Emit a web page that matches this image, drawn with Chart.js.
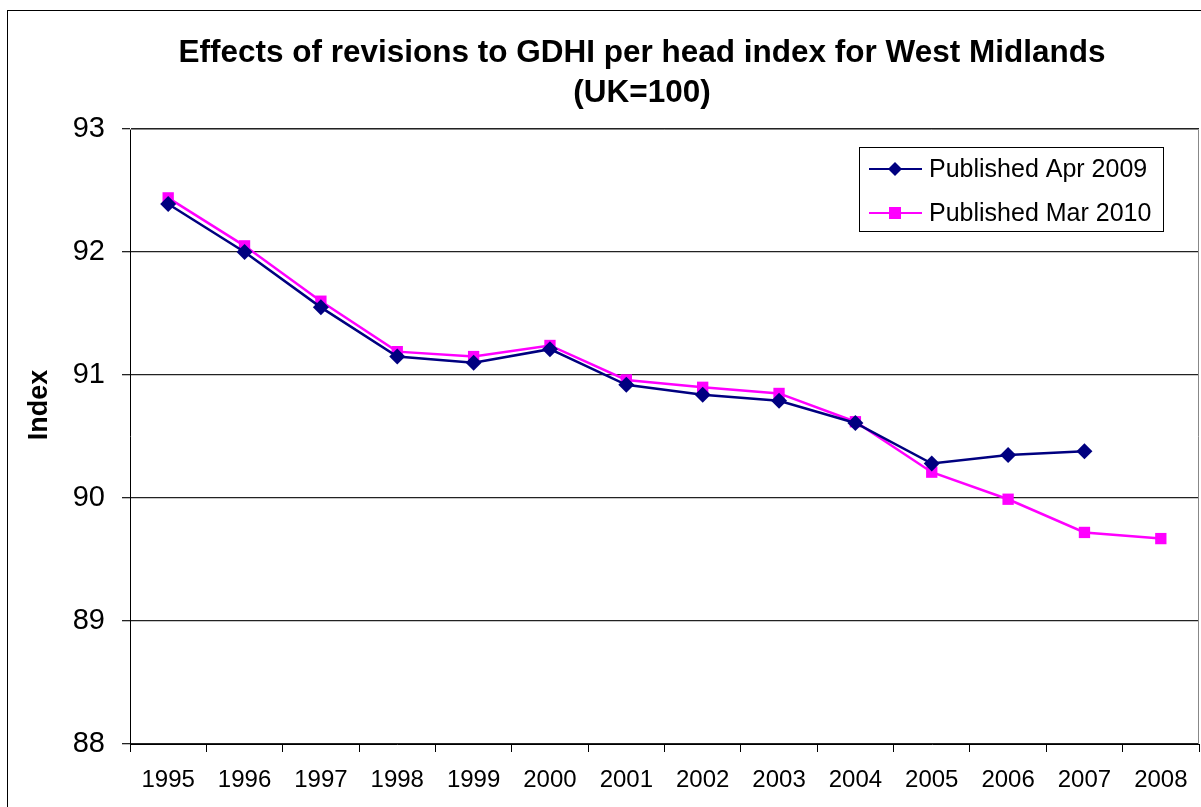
<!DOCTYPE html>
<html>
<head>
<meta charset="utf-8">
<script src="https://cdn.jsdelivr.net/npm/chart.js@4.4.1/dist/chart.umd.min.js"></script>
<style>
  html, body { margin: 0; padding: 0; background: #fff; }
  #wrap { width: 1201px; height: 807px; position: relative; }
</style>
</head>
<body>
<div id="wrap"><canvas id="gdhiChart" width="1201" height="807"></canvas></div>
<script>
var years = ['1995','1996','1997','1998','1999','2000','2001','2002','2003','2004','2005','2006','2007','2008'];
var publishedApr2009 = [92.39, 92.0, 91.55, 91.15, 91.1, 91.21, 90.92, 90.84, 90.79, 90.61, 90.28, 90.35, 90.38, null];
var publishedMar2010 = [92.44, 92.05, 91.6, 91.19, 91.15, 91.24, 90.96, 90.9, 90.85, 90.62, 90.21, 89.99, 89.72, 89.67];
var seriesNames = ['Published Apr 2009', 'Published Mar 2010'];
var titleLines = ['Effects of revisions to GDHI per head index for West Midlands', '(UK=100)'];
var yTitle = 'Index';

var FONT = 'Arial, "Liberation Sans", sans-serif';
var NAVY = '#000080';
var MAGENTA = '#FF00FF';

// frame, title, axis title, plot border and legend drawn by hand
var excelLook = {
    id: 'excelLook',
    beforeDraw: function(chart){
        var ctx = chart.ctx;
        ctx.save();
        ctx.fillStyle = '#fff';
        ctx.fillRect(0, 0, chart.width, chart.height);
        ctx.strokeStyle = '#000';
        ctx.lineWidth = 1;
        ctx.strokeRect(7.5, 10.5, 1300, 900);
        ctx.restore();
    },
    afterDraw: function(chart){
        var ctx = chart.ctx;
        var a = chart.chartArea;
        ctx.save();
        // plot border top / right
        ctx.strokeStyle = '#888';
        ctx.lineWidth = 1;
        ctx.beginPath();
        ctx.moveTo(a.left, a.top + 0.5);
        ctx.lineTo(a.right - 0.5, a.top + 0.5);
        ctx.lineTo(a.right - 0.5, a.bottom);
        ctx.stroke();

        // title
        ctx.fillStyle = '#000';
        ctx.textAlign = 'center';
        ctx.textBaseline = 'middle';
        ctx.font = 'bold 31.5px ' + FONT;
        ctx.fillText(titleLines[0], 642, 53);
        ctx.fillText(titleLines[1], 642, 93);

        // y axis title
        ctx.save();
        ctx.translate(40, 405);
        ctx.rotate(-Math.PI / 2);
        ctx.font = 'bold 27px ' + FONT;
        ctx.fillText(yTitle, 0, 0);
        ctx.restore();

        // legend
        var lx = 859, ly = 147, lw = 304, lh = 84;
        ctx.fillStyle = '#fff';
        ctx.fillRect(lx, ly, lw, lh);
        ctx.strokeStyle = '#000';
        ctx.strokeRect(lx + 0.5, ly + 0.5, lw, lh);
        var colors = [NAVY, MAGENTA];
        var rows = [169, 213];
        for (var i = 0; i < 2; i++) {
            var y = rows[i];
            ctx.strokeStyle = colors[i];
            ctx.lineWidth = 2;
            ctx.beginPath();
            ctx.moveTo(869, y);
            ctx.lineTo(922, y);
            ctx.stroke();
            ctx.fillStyle = colors[i];
            if (i === 0) {
                ctx.beginPath();
                ctx.moveTo(895, y - 7);
                ctx.lineTo(902, y);
                ctx.lineTo(895, y + 7);
                ctx.lineTo(888, y);
                ctx.closePath();
                ctx.fill();
            } else {
                ctx.fillRect(889, y - 6, 12, 12);
            }
            ctx.fillStyle = '#000';
            ctx.textAlign = 'left';
            ctx.font = '25px ' + FONT;
            ctx.fillText(seriesNames[i], 929, y + 1);
        }
        ctx.restore();
    }
};

var chart = new Chart(document.getElementById('gdhiChart'), {
    type: 'line',
    data: {
        labels: years,
        datasets: [
            {
                label: seriesNames[0],
                data: publishedApr2009,
                borderColor: NAVY,
                backgroundColor: NAVY,
                borderWidth: 2.5,
                pointStyle: 'rectRot',
                pointRadius: 8,
                pointBorderWidth: 0,
                tension: 0
            },
            {
                label: seriesNames[1],
                data: publishedMar2010,
                borderColor: MAGENTA,
                backgroundColor: MAGENTA,
                borderWidth: 2.5,
                pointStyle: 'rect',
                pointRadius: 8,
                pointBorderWidth: 0,
                tension: 0
            }
        ]
    },
    options: {
        responsive: false,
        animation: false,
        layout: { autoPadding: false, padding: { top: 129, left: 0, right: 2, bottom: 0 } },
        plugins: {
            legend: { display: false },
            title: { display: false },
            tooltip: { enabled: false }
        },
        scales: {
            x: {
                offset: true,
                grid: {
                    offset: true,
                    drawOnChartArea: false,
                    drawTicks: true,
                    tickLength: 8,
                    color: '#000'
                },
                border: { color: '#000', width: 1 },
                ticks: {
                    color: '#000',
                    font: { family: FONT, size: 24 },
                    padding: 14,
                    maxRotation: 0,
                    autoSkip: false
                },
                afterFit: function(scale){
                    scale.height = 63;
                    scale.paddingLeft = 0;
                    scale.paddingRight = 0;
                }
            },
            y: {
                min: 88,
                max: 93,
                ticks: {
                    stepSize: 1,
                    color: '#000',
                    font: { family: FONT, size: 29 },
                    padding: 17
                },
                grid: {
                    color: '#222',
                    lineWidth: 1.3,
                    tickLength: 8,
                    drawTicks: true
                },
                border: { color: '#000', width: 1 },
                afterFit: function(scale){ scale.width = 130; }
            }
        }
    },
    plugins: [excelLook]
});
</script>
</body>
</html>
